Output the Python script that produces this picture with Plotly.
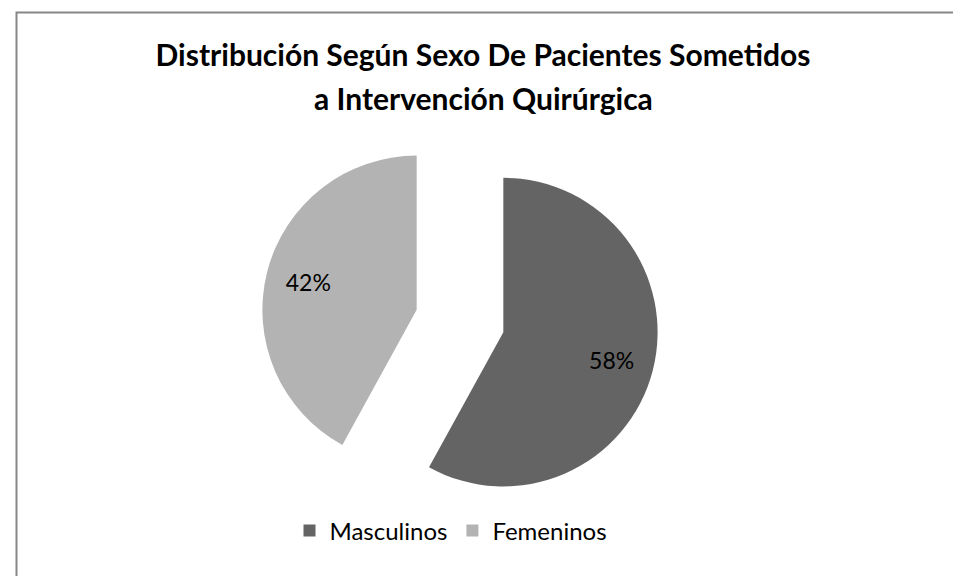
import plotly.graph_objects as go

categories = ["Masculinos", "Femeninos"]
values = [58, 42]
colors = ["#646464", "#b3b3b3"]
title_lines = ["Distribución Según Sexo De Pacientes Sometidos", "a Intervención Quirúrgica"]

W, H = 961, 576
dom = dict(x=[253 / W, 651 / W], y=[1 - 512 / H, 1 - 114 / H])
pulls = [0.29, 0.29]

fig = go.Figure()
fig.add_trace(
    go.Pie(
        labels=categories,
        values=values,
        sort=False,
        direction="clockwise",
        rotation=0,
        pull=pulls,
        marker=dict(colors=colors, line=dict(width=0)),
        textinfo="none",
        hoverinfo="skip",
        domain=dom,
    )
)
# transparent ring used only to place the percentage labels further out
fig.add_trace(
    go.Pie(
        labels=categories,
        values=values,
        sort=False,
        direction="clockwise",
        rotation=0,
        pull=pulls,
        hole=0.45,
        marker=dict(colors=["rgba(0,0,0,0)"] * 2, line=dict(width=0)),
        texttemplate="%{percent:.0%}",
        textposition="inside",
        insidetextorientation="horizontal",
        textfont=dict(family="Lato", size=23, color="#000000"),
        hoverinfo="skip",
        showlegend=False,
        domain=dom,
    )
)

fig.update_layout(
    width=W,
    height=H,
    margin=dict(l=0, r=0, t=0, b=0),
    paper_bgcolor="white",
    plot_bgcolor="white",
    title=dict(
        text=title_lines[0],
        font=dict(family="Lato", size=30, color="#000000", weight="bold"),
        x=475 / W,
        xanchor="center",
        y=1 - 37 / H,
        yanchor="top",
    ),
    annotations=[
        dict(
            text=title_lines[1],
            xref="paper",
            yref="paper",
            x=475 / W,
            xanchor="center",
            y=1 - 70 / H,
            yanchor="top",
            showarrow=False,
            font=dict(family="Lato", size=30, color="#000000", weight="bold"),
        )
    ],
    legend=dict(
        orientation="h",
        x=443 / W,
        xanchor="center",
        y=1 - 523 / H,
        yanchor="middle",
        font=dict(family="Lato", size=24, color="#000000"),
        itemwidth=30,
    ),
    shapes=[
        dict(
            type="rect",
            xref="paper",
            yref="paper",
            x0=8.5 / W,
            x1=1.1,
            y0=-0.1,
            y1=1 - 4.5 / H,
            line=dict(color="#878787", width=2),
            fillcolor="rgba(0,0,0,0)",
        )
    ],
)

fig.write_html("out.html")
